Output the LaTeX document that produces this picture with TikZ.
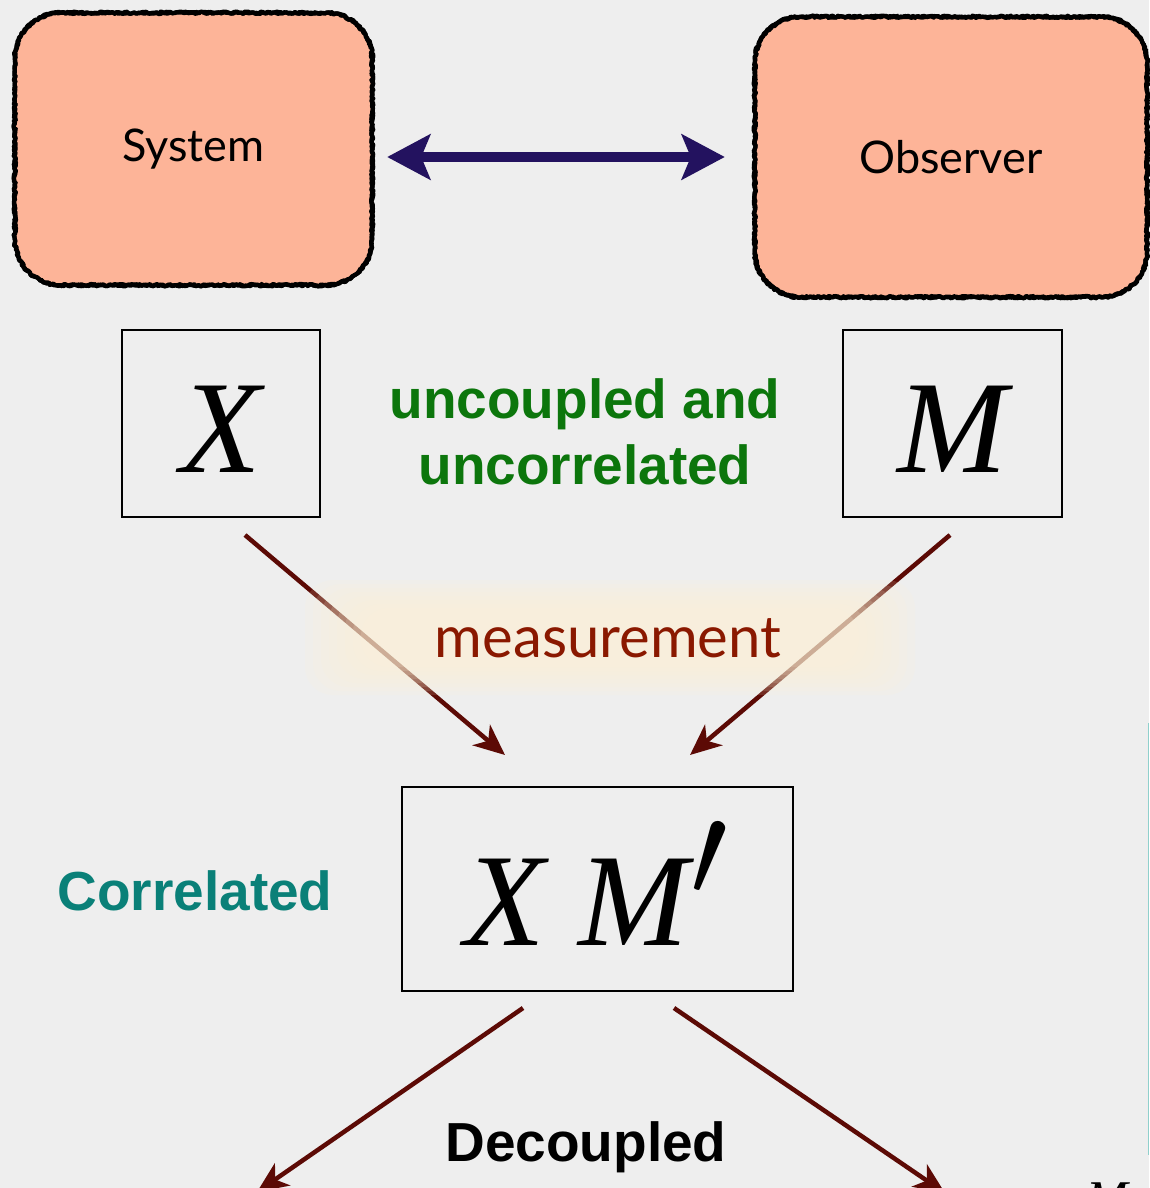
\documentclass[tikz,border=0pt]{standalone}
\usepackage{fontspec}
\usepackage{graphicx}
\setmainfont{Liberation Serif}
\newfontfamily\gillf{Lato}
\newfontfamily\helvf{Liberation Sans}
\usetikzlibrary{arrows.meta,decorations.pathmorphing}
\definecolor{bgc}{HTML}{EEEEEE}
\definecolor{salmon}{HTML}{FDB498}
\definecolor{navyc}{HTML}{23125F}
\definecolor{greenc}{HTML}{0C760C}
\definecolor{tealc}{HTML}{0A8078}
\definecolor{measred}{HTML}{8A1800}
\definecolor{arrowred}{HTML}{5C0A05}
\definecolor{cream}{HTML}{FFF4D7}
\definecolor{edgeteal}{HTML}{8FD0CC}
\begin{document}
\begin{tikzpicture}[x=1pt,y=1pt,
  fillbox/.style={fill=salmon, rounded corners=46pt, inner sep=0pt,
    font=\gillf\fontsize{45}{54}\selectfont},
  rough/.style={draw=black, line width=4.2pt, line join=round, line cap=round,
    decorate, decoration={random steps, segment length=2pt, amplitude=1.2pt}},
  varbox/.style={draw=black, line width=1.6pt, inner sep=0pt, text depth=0pt,
    font=\fontsize{132}{140}\selectfont\itshape},
  boldlabel/.style={font=\helvf\bfseries\fontsize{55}{65}\selectfont, inner sep=0pt},
  marrow/.style={draw=arrowred, line width=4.5pt, -{Stealth[length=31pt,width=27pt,inset=9pt]}}
]
\useasboundingbox (0,0) rectangle (1149,-1188);
\fill[bgc] (0,0) rectangle (1149,-1188);

% top boxes
\node[fillbox, minimum width=357pt, minimum height=272pt] (sys) at (193.5,-149) {System};
\node[fillbox, minimum width=392pt, minimum height=280pt] (obs) at (951,-157) {Observer};
\foreach \n in {sys,obs}{
  \foreach \s in {1,2}{
  \draw[rough] ([xshift=46pt]\n.north west) -- ([xshift=-46pt]\n.north east)
    arc[start angle=90,end angle=0,radius=46pt] -- ([yshift=46pt]\n.south east)
    arc[start angle=0,end angle=-90,radius=46pt] -- ([xshift=46pt]\n.south west)
    arc[start angle=270,end angle=180,radius=46pt] -- ([yshift=-46pt]\n.north west)
    arc[start angle=180,end angle=90,radius=46pt] -- cycle;
  }
}

% double arrow
\draw[navyc, line width=10pt,
  {Stealth[length=43pt,width=45pt,inset=9pt]}-{Stealth[length=43pt,width=45pt,inset=9pt]},
  shorten <=15pt, shorten >=30pt] (sys.east |- obs.west) -- (obs.west);

% variable boxes
\node[varbox, minimum width=198pt, minimum height=187pt, text height=97pt] (xb) at (221,-423.5) {X};
\node[varbox, minimum width=219pt, minimum height=187pt, text height=97pt] (mb) at (952.5,-423.5) {M};
\node[varbox, minimum width=391pt, minimum height=204pt, text height=112pt] (xm) at (597.5,-889) {X M\hspace{2pt}\scalebox{5.4}{$'$}};

\node[boldlabel, text=greenc, align=center, font=\helvf\bfseries\fontsize{55}{66}\selectfont] (unc) at (585,-432) {uncoupled and\\uncorrelated};

% measurement arrows
\coordinate (xs) at (245,-535);
\coordinate (ms) at (950,-535);
\coordinate (xe) at (505,-755);
\coordinate (me) at (690,-755);
\draw[marrow] (xs) -- (xe);
\draw[marrow] (ms) -- (me);

% glow
\foreach \i in {0,...,7}{
  \fill[cream, opacity=0.14, rounded corners=28pt]
    (305+\i*8,-580-\i*4) rectangle (915-\i*8,-695+\i*4);
}
\node[anchor=base, text=measred, font=\gillf\fontsize{58}{66}\selectfont, inner sep=0pt] (meas) at (608,-657) {measurement};

\node[boldlabel, text=tealc, anchor=base] (corr) at (195,-910) {Correlated};

% decoupling arrows
\coordinate (ls) at (523,-1008);
\coordinate (rs) at (674,-1008);
\coordinate (le) at (257,-1192);
\coordinate (re) at (945,-1193);
\draw[marrow] (ls) -- (le);
\draw[marrow] (rs) -- (re);
\node[boldlabel, text=black, anchor=base] (dec) at (586,-1161) {Decoupled};

% cut-off pieces at the edges
\node[anchor=north west, inner sep=0pt, font=\fontsize{50}{60}\selectfont\itshape] (mcut) at (1086,-1183) {M};
\coordinate (et) at (1148.5,-723);
\coordinate (eb) at (1148.5,-1155);
\draw[edgeteal, line width=1.2pt] (et) -- (eb);
\end{tikzpicture}
\end{document}
